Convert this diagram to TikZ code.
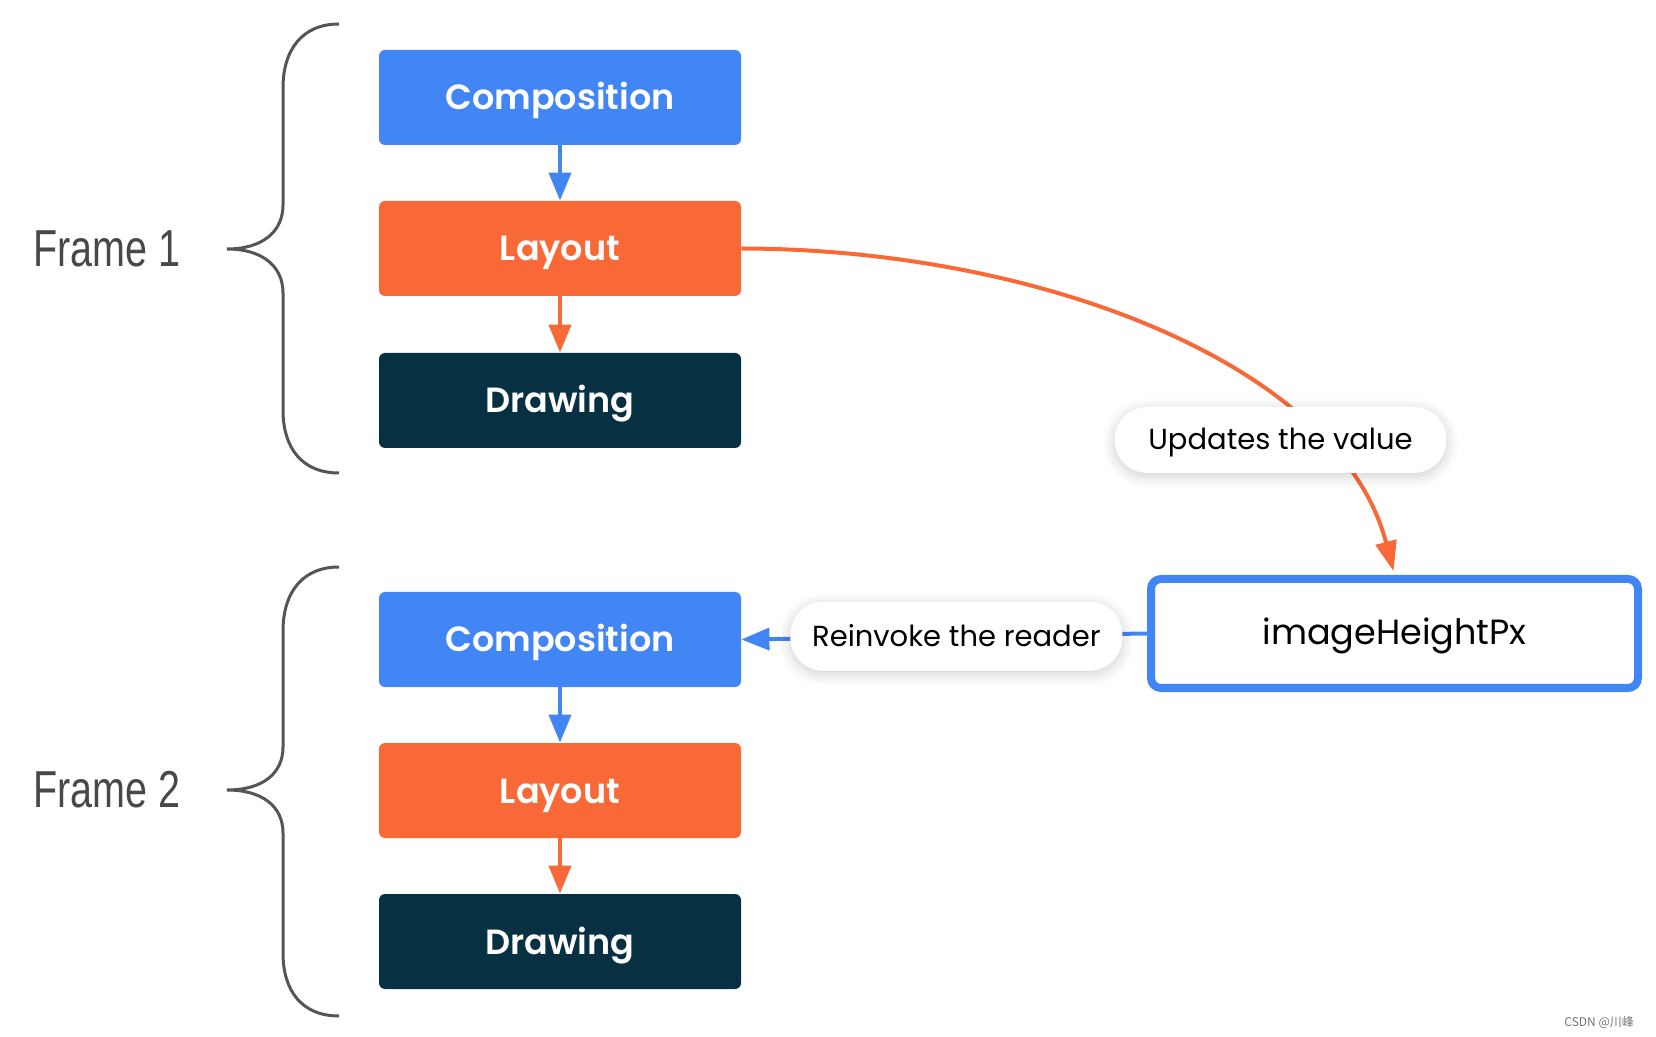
\documentclass[tikz,border=0pt]{standalone}
\usepackage{fontspec}
\setmainfont{Poppins}[BoldFont={Poppins SemiBold}]
\newfontfamily\framefont[FakeStretch=0.76]{Liberation Sans}
\newfontfamily\cjk{Noto Sans CJK SC}
\usetikzlibrary{arrows.meta,shadows.blur}
\definecolor{gblue}{HTML}{4285F4}
\definecolor{gorange}{HTML}{F96837}
\definecolor{navy}{HTML}{073042}
\definecolor{bracegray}{HTML}{555555}
\begin{document}
\begin{tikzpicture}[x=0.5pt,y=-0.5pt,>={Triangle[length=14pt,width=11pt]},
  stage/.style={rectangle,rounded corners=3pt,minimum width=181pt,minimum height=47.5pt,
    text=white,font=\fontsize{17.5}{20}\selectfont\bfseries,inner sep=0pt,text height=1.25em,text depth=0pt},
  flow/.style={->,line width=2pt},
  pill/.style={rectangle,rounded corners=16.5pt,fill=white,minimum width=166pt,minimum height=33pt,
    text=black,font=\fontsize{14.5}{17}\selectfont,inner sep=0pt,text height=1em,text depth=0pt,
    blur shadow={shadow xshift=0pt,shadow yshift=-1.5pt,shadow blur radius=6pt,shadow opacity=20}},
  brace/.style={draw=bracegray,line width=1.5pt},
  framelabel/.style={anchor=west,text=bracegray!85!black,font=\framefont\fontsize{26}{28}\selectfont}]
\useasboundingbox (0,0) rectangle (1656,1037);
% frame 1
\node[stage,fill=gblue] (comp1) at (560,97.5) {Composition};
\node[stage,fill=gorange] (lay1) at (560,248.5) {Layout};
\node[stage,fill=navy] (draw1) at (560,400.5) {Drawing};
\draw[flow,gblue] (comp1) -- (lay1);
\draw[flow,gorange] (lay1) -- (draw1);
% frame 2
\node[stage,fill=gblue] (comp2) at (560,639.5) {Composition};
\node[stage,fill=gorange] (lay2) at (560,790.5) {Layout};
\node[stage,fill=navy] (draw2) at (560,941.5) {Drawing};
\draw[flow,gblue] (comp2) -- (lay2);
\draw[flow,gorange] (lay2) -- (draw2);
% braces
\draw[brace] (339,24) .. controls (302,24) and (283,50) .. (283,88) -- (283,205)
  .. controls (283,232) and (262,249) .. (227,249)
  .. controls (262,249) and (283,266) .. (283,293) -- (283,410)
  .. controls (283,448) and (302,473) .. (339,473);
\draw[brace] (339,567) .. controls (302,567) and (283,593) .. (283,631) -- (283,747)
  .. controls (283,774) and (262,790) .. (227,790)
  .. controls (262,790) and (283,806) .. (283,833) -- (283,953)
  .. controls (283,991) and (302,1016) .. (339,1016);
\node[framelabel] (f1) at (26,249) {Frame 1};
\node[framelabel] (f2) at (26,790) {Frame 2};
% state
\node[rectangle,draw=gblue,line width=4pt,rounded corners=5pt,fill=white,
  minimum width=243.5pt,minimum height=54.5pt,font=\fontsize{17.5}{20}\selectfont,
  inner sep=0pt,text height=1.15em,text depth=0pt] (img) at (1394.5,633.5) {imageHeightPx};
\draw[flow,gorange,shorten >=2pt,>={Triangle[length=15pt,width=10.5pt]}] (lay1.east) .. controls (1040,249) and (1340,365) .. (img.north);
\node[pill] (upd) at (1280.5,440) {Updates the value};
\draw[flow,gblue] (img.west) -- node[pill,pos=0.47,minimum height=34.5pt] (rein) {Reinvoke the reader} (comp2.east);
\node[anchor=east,text=black!55,font=\cjk\fontsize{6}{7}\selectfont] (mark) at (1641,1022) {CSDN @川峰};
\end{tikzpicture}
\end{document}
